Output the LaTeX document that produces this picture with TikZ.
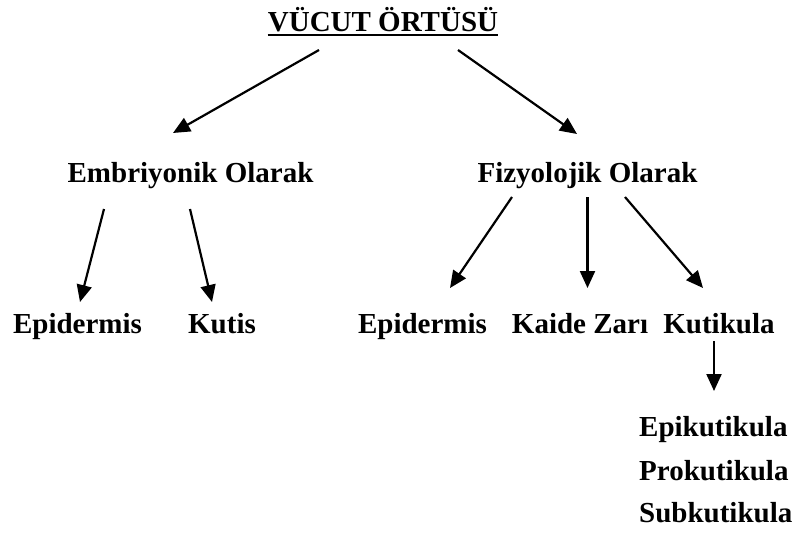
\documentclass[tikz,border=0pt]{standalone}
\usepackage{fontspec}
\setmainfont{Liberation Serif}
\usetikzlibrary{arrows.meta, calc}
\tikzset{
  lbl/.style={font=\bfseries\fontsize{29}{34}\selectfont, inner sep=0pt, anchor=base},
  wire/.style={-{Triangle[length=17pt, width=15pt]}, line width=2.2pt}
}
\begin{document}
\begin{tikzpicture}[x=1pt, y=-1pt]
  \useasboundingbox (0,0) rectangle (794,541);
  \node[lbl] (title) at (383,31) {VÜCUT ÖRTÜSÜ};
  \draw[line width=2.2pt] ($(title.base west)+(0,4)$) -- ($(title.base east)+(0,4)$);
  \node[lbl] (emb) at (190.5,182) {Embriyonik Olarak};
  \node[lbl] (fiz) at (587.5,182) {Fizyolojik Olarak};
  \node[lbl] (epiL) at (77.5,333) {Epidermis};
  \node[lbl] (kutis) at (222,333) {Kutis};
  \node[lbl] (epiR) at (422.5,333) {Epidermis};
  \node[lbl] (kaide) at (580,333) {Kaide Zarı};
  \node[lbl] (kutik) at (719,333) {Kutikula};
  \node[lbl, anchor=base west] (epik) at (639,436) {Epikutikula};
  \node[lbl, anchor=base west] (prok) at (639,480) {Prokutikula};
  \node[lbl, anchor=base west] (subk) at (639,522) {Subkutikula};
  % title splits in two
  \draw[wire] ($(title.base)+(-64,19)$) -- ($(emb.base)+(-17.5,-49)$);
  \draw[wire] ($(title.base)+(75,19)$) -- ($(fiz.base)+(-10.5,-48)$);
  % embryonic
  \draw[wire] ($(emb.base)+(-86.5,27)$) -- ($(epiL.base)+(2.5,-31)$);
  \draw[wire] ($(emb.base)+(-0.5,27)$) -- ($(kutis.base)+(-10,-31)$);
  % physiological
  \draw[wire] ($(fiz.base)+(-75.5,15)$) -- ($(epiR.base)+(27.5,-45)$);
  \draw[wire] ($(fiz.base)+(0,15)$) -- ($(fiz.base)+(0,106)$);
  \draw[wire] ($(fiz.base)+(37.5,15)$) -- ($(kutik.base)+(-16,-45)$);
  \draw[wire] ($(kutik.base)+(-5,8)$) -- ($(epik.base west)+(75,-45)$);
\end{tikzpicture}
\end{document}
